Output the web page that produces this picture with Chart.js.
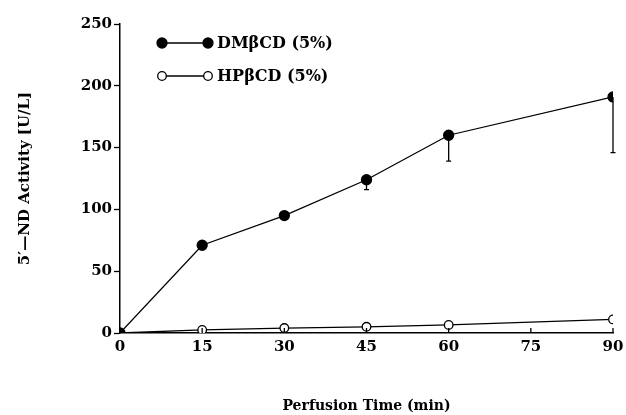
<!DOCTYPE html>
<html lang="en">

<head>
  <meta charset="UTF-8" />
  <title>5'-ND Activity</title>
  <script src="https://cdn.jsdelivr.net/npm/chart.js"></script>
  <style>
    html, body { margin: 0; padding: 0; background: #fff; }
    #wrap { width: 626px; height: 415px; position: relative; }
  </style>
</head>

<body>
  <div id="wrap">
    <canvas id="myChart01" width="626" height="415"></canvas>
  </div>
  <script>
    // 資料
    const times = [0, 15, 30, 45, 60, 90];
    const xTicks = [0, 15, 30, 45, 60, 75, 90];
    const yTicks = [0, 50, 100, 150, 200, 250];
    const dmLabel = "DMβCD (5%)";
    const dmValues = [0, 71, 95, 124, 160, 191];
    const dmErrLow = [0, 0, 0, 8, 21, 45];
    const hpLabel = "HPβCD (5%)";
    const hpValues = [0, 2.5, 4, 5, 6.5, 11];

    const fontFam = "'DejaVu Serif', serif";
    const tickFont = { family: fontFam, size: 15, weight: "bold" };
    const titleFont = { family: fontFam, size: 14, weight: "bold" };

    function toPoints(vals) {
      return times.map((t, i) => ({ x: t, y: vals[i] }));
    }

    // 誤差線 (只往下)
    const errorBars = {
      id: "errorBars",
      afterDatasetsDraw(chart) {
        const ctx = chart.ctx;
        const xs = chart.scales.x;
        const ys = chart.scales.y;
        ctx.save();
        ctx.strokeStyle = "#000";
        ctx.lineWidth = 1.3;
        times.forEach((t, i) => {
          if (!dmErrLow[i]) return;
          const px = xs.getPixelForValue(t);
          const top = ys.getPixelForValue(dmValues[i]);
          const bot = ys.getPixelForValue(dmValues[i] - dmErrLow[i]);
          ctx.beginPath();
          ctx.moveTo(px, top);
          ctx.lineTo(px, bot);
          ctx.moveTo(px - 2.5, bot);
          ctx.lineTo(px + 2.5, bot);
          ctx.stroke();
        });
        // x 軸刻度 (朝內)
        xTicks.forEach((t) => {
          const px = xs.getPixelForValue(t);
          ctx.beginPath();
          ctx.moveTo(px, chart.chartArea.bottom);
          ctx.lineTo(px, chart.chartArea.bottom - 5);
          ctx.stroke();
        });
        ctx.restore();
      },
      afterDraw(chart) {
        // 圖例
        const ctx = chart.ctx;
        ctx.save();
        ctx.strokeStyle = "#000";
        ctx.lineWidth = 1.3;
        const rows = [
          { y: 43, filled: true, text: dmLabel },
          { y: 76, filled: false, text: hpLabel },
        ];
        rows.forEach((r) => {
          ctx.beginPath();
          ctx.moveTo(162, r.y);
          ctx.lineTo(208, r.y);
          ctx.stroke();
          [162, 208].forEach((cx) => {
            ctx.beginPath();
            ctx.arc(cx, r.y, r.filled ? 5 : 4.3, 0, Math.PI * 2);
            ctx.fillStyle = r.filled ? "#000" : "#fff";
            ctx.fill();
            ctx.stroke();
          });
          ctx.fillStyle = "#000";
          ctx.font = "bold 16px " + fontFam;
          ctx.textBaseline = "middle";
          ctx.fillText(r.text, 217, r.y + 1);
        });
        ctx.restore();
      },
    };

    const ctx01 = document.getElementById("myChart01");
    const mychart01 = new Chart(ctx01, {
      type: "line",
      data: {
        datasets: [
          {
            label: dmLabel,
            data: toPoints(dmValues),
            borderColor: "#000",
            borderWidth: 1.3,
            pointRadius: 5,
            pointBackgroundColor: "#000",
            pointBorderColor: "#000",
          },
          {
            label: hpLabel,
            data: toPoints(hpValues),
            borderColor: "#000",
            borderWidth: 1.3,
            pointRadius: 4.3,
            pointBorderWidth: 1.3,
            pointBackgroundColor: "#fff",
            pointBorderColor: "#000",
          },
        ],
      },
      options: {
        responsive: false,
        animation: false,
        devicePixelRatio: 1,
        layout: { padding: { top: 24, right: 13, left: 0, bottom: 0 } },
        plugins: {
          legend: { display: false },
          tooltip: { enabled: false },
        },
        scales: {
          x: {
            type: "linear",
            min: 0,
            max: 90,
            afterBuildTicks: (s) => { s.ticks = xTicks.map((v) => ({ value: v })); },
            afterFit: (s) => {
              s.height = 82;
              s.paddingLeft = 0;
              s.paddingRight = 0;
            },
            grid: { display: false, drawTicks: false },
            border: { display: true, color: "#000", width: 1.5 },
            ticks: { color: "#000", font: tickFont, padding: 5, maxRotation: 0 },
            title: {
              display: true,
              text: "Perfusion Time (min)",
              color: "#000",
              font: titleFont,
              padding: { top: 0, bottom: 0 },
            },
          },
          y: {
            min: 0,
            max: 250,
            afterBuildTicks: (s) => { s.ticks = yTicks.map((v) => ({ value: v })); },
            afterFit: (s) => { s.width = 120; },
            grid: { drawOnChartArea: false, tickLength: 6, color: "#000", tickWidth: 1.3 },
            border: { display: true, color: "#000", width: 1.5 },
            ticks: { color: "#000", font: tickFont, padding: 2 },
            title: {
              display: true,
              text: "5′—ND Activity [U/L]",
              color: "#000",
              font: { family: fontFam, size: 15, weight: "bold" },
              padding: { top: 16, bottom: 0 },
            },
          },
        },
      },
      plugins: [errorBars],
    });
  </script>
</body>

</html>
